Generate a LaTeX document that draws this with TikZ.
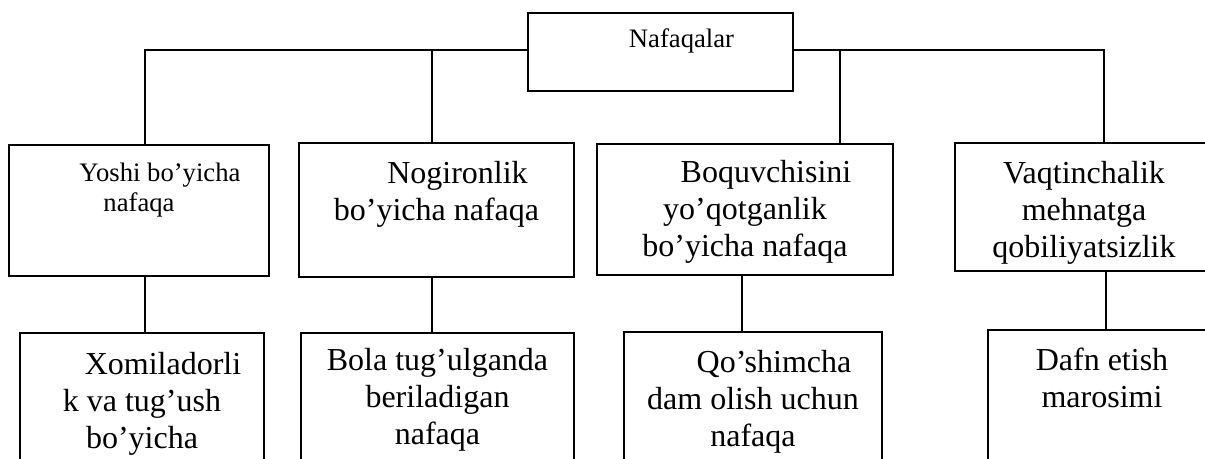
\documentclass[tikz,border=0pt]{standalone}
\usepackage{fontspec}
\setmainfont{Liberation Serif}
\usepackage{tikz}

\begin{document}
\begin{tikzpicture}[x=0.75pt, y=-0.75pt,
  box/.style={draw, line width=1.5pt, inner sep=0pt, outer sep=0pt, anchor=north west},
  bigtxt/.style={font=\fontsize{24pt}{27.75pt}\selectfont, align=center, inner sep=0pt, anchor=base},
  smalltxt/.style={bigtxt, font=\fontsize{20pt}{22.5pt}\selectfont},
  link/.style={line width=1.5pt},
]
\useasboundingbox (0,0) rectangle (1205,459);
\clip (0,0) rectangle (1205,459);
\node[box, minimum width=198.75pt, minimum height=58.5pt] (top) at (528,13) {};
\node[box, minimum width=195pt, minimum height=98.25pt] (yosh) at (9,145) {};
\node[box, minimum width=206.25pt, minimum height=100.5pt] (nogir) at (299,143) {};
\node[box, minimum width=222pt, minimum height=98.25pt] (boquv) at (597,144) {};
\node[box, minimum width=195pt, minimum height=96pt] (vaqt) at (955,143) {};
\node[box, minimum width=183pt, minimum height=112.5pt] (xomil) at (20,333) {};
\node[box, minimum width=204.75pt, minimum height=112.5pt] (bola) at (301,333) {};
\node[box, minimum width=193.5pt, minimum height=112.5pt] (qosh) at (624,332) {};
\node[box, minimum width=174pt, minimum height=112.5pt] (dafn) at (988,330) {};
\node[smalltxt] (ttop) at (660.5,48) {\hspace*{31.5pt}Nafaqalar};
\node[smalltxt] (tyosh) at (139,212) {\hspace*{31.5pt}Yoshi bo’yicha\\nafaqa};
\node[bigtxt] (tnogir) at (436.5,221) {\hspace*{31.5pt}Nogironlik\\bo’yicha nafaqa};
\node[bigtxt] (tboquv) at (745,257) {\hspace*{31.5pt}Boquvchisini\\yo’qotganlik\\bo’yicha nafaqa};
\node[bigtxt] (tvaqt) at (1084,258) {Vaqtinchalik\\mehnatga\\qobiliyatsizlik};
\node[bigtxt] (txomil) at (142,448) {\hspace*{31.5pt}Xomiladorli\\k va tug’ush\\bo’yicha};
\node[bigtxt] (tbola) at (437.5,444) {Bola tug’ulganda\\beriladigan\\nafaqa};
\node[bigtxt] (tqosh) at (753,446) {\hspace*{31.5pt}Qo’shimcha\\dam olish uchun\\nafaqa};
\node[bigtxt] (tdafn) at (1102,407) {Dafn etish\\marosimi};
\coordinate (busL) at (145,50);
\coordinate (busR) at (1104,50);
\coordinate (j2) at (432,50);
\coordinate (j3) at (840,50);
\draw[link] (top.west |- busL) -- (busL) -- (busL |- yosh.north);
\draw[link] (top.east |- busR) -- (busR) -- (busR |- vaqt.north);
\draw[link] (j2) -- (j2 |- nogir.north);
\draw[link] (j3) -- (j3 |- boquv.north);
\draw[link] ([xshift=4.5pt]yosh.south) -- ([xshift=4.5pt]yosh.south |- xomil.north);
\draw[link] ([xshift=-3.375pt]nogir.south) -- ([xshift=-3.375pt]nogir.south |- bola.north);
\draw[link] ([xshift=-2.25pt]boquv.south) -- ([xshift=-2.25pt]boquv.south |- qosh.north);
\draw[link] ([xshift=15.75pt]vaqt.south) -- ([xshift=15.75pt]vaqt.south |- dafn.north);
\end{tikzpicture}
\end{document}
